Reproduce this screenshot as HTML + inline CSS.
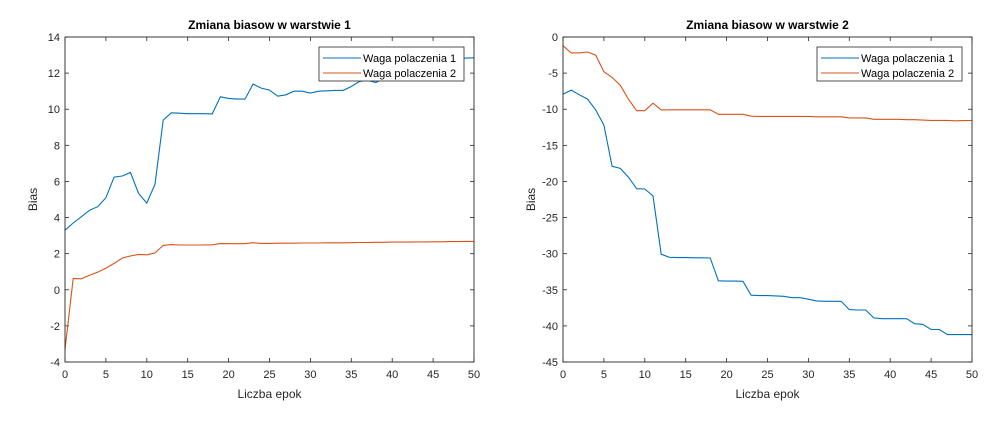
<!DOCTYPE html>
<html><head><meta charset="utf-8"><style>
html,body{margin:0;padding:0;background:#fff;}
svg{display:block;font-family:"Liberation Sans",Arial,sans-serif;}
</style></head><body>
<svg id="fig" width="990" height="423" viewBox="0 0 990 423"></svg>
<script>
const epochs = Array.from({length:51},(_,i)=>i);
const l1Series1 = [3.3,3.7,4.05,4.4,4.6,5.1,6.24,6.3,6.5,5.33,4.8,5.85,9.4,9.8,9.78,9.75,9.75,9.75,9.74,10.69,10.6,10.56,10.56,11.39,11.17,11.06,10.72,10.8,11.0,11.0,10.9,11.0,11.02,11.04,11.04,11.26,11.54,11.6,11.48,11.7,12.0,12.2,12.4,12.5,12.6,12.7,12.75,12.8,12.8,12.83,12.85];
const l1Series2 = [-3.3,0.63,0.61,0.8,0.98,1.2,1.46,1.76,1.87,1.96,1.94,2.04,2.46,2.5,2.48,2.48,2.48,2.48,2.49,2.56,2.55,2.55,2.55,2.61,2.57,2.57,2.58,2.58,2.58,2.59,2.59,2.59,2.6,2.6,2.6,2.61,2.62,2.62,2.63,2.63,2.64,2.64,2.64,2.65,2.65,2.66,2.66,2.67,2.67,2.68,2.68];
const l2Series1 = [-7.9,-7.35,-8.0,-8.6,-10.1,-12.2,-17.9,-18.2,-19.4,-21.0,-21.05,-22.0,-30.07,-30.5,-30.55,-30.55,-30.57,-30.57,-30.6,-33.76,-33.8,-33.8,-33.82,-35.75,-35.8,-35.8,-35.85,-35.9,-36.1,-36.1,-36.3,-36.54,-36.6,-36.6,-36.6,-37.74,-37.8,-37.8,-38.9,-39.0,-39.0,-39.0,-39.0,-39.7,-39.8,-40.5,-40.5,-41.2,-41.2,-41.2,-41.2];
const l2Series2 = [-1.2,-2.2,-2.2,-2.08,-2.5,-4.8,-5.6,-6.7,-8.6,-10.2,-10.2,-9.16,-10.1,-10.08,-10.08,-10.08,-10.08,-10.08,-10.08,-10.7,-10.7,-10.7,-10.7,-10.96,-11.0,-11.0,-11.0,-11.0,-11.0,-11.0,-11.0,-11.05,-11.05,-11.05,-11.05,-11.2,-11.2,-11.2,-11.4,-11.4,-11.4,-11.4,-11.45,-11.45,-11.5,-11.55,-11.55,-11.55,-11.6,-11.58,-11.56];
const xTicks = [0,5,10,15,20,25,30,35,40,45,50];
const yTicks1 = [-4,-2,0,2,4,6,8,10,12,14];
const yTicks2 = [-45,-40,-35,-30,-25,-20,-15,-10,-5,0];
const titles = ["Zmiana biasow w warstwie 1","Zmiana biasow w warstwie 2"];
const legendLabels = ["Waga polaczenia 1","Waga polaczenia 2"];
const colors = ["#0072BD","#D95319"];
const NS="http://www.w3.org/2000/svg";
const svg=document.getElementById('fig');
function mk(tag,attrs,parent){const e=document.createElementNS(NS,tag);for(const k in attrs)e.setAttribute(k,attrs[k]);(parent||svg).appendChild(e);return e;}
function panel(idx,L,R,T,B,ymin,ymax,yTicks,s1,s2,legX){
  const g=mk('g',{});
  
  
  const xs=v=>L+(v-0)/(50-0)*(R-L);
  const ys=v=>B-(v-ymin)/(ymax-ymin)*(B-T);
  mk('rect',{x:L,y:T,width:R-L,height:B-T,fill:'#fff'},g);
  const ax='#262626';
  xTicks.forEach(t=>{
    const x=xs(t);
    mk('line',{x1:x,y1:B,x2:x,y2:B-4,stroke:ax,'stroke-width':0.8},g);
    mk('line',{x1:x,y1:T,x2:x,y2:T+4,stroke:ax,'stroke-width':0.8},g);
    const tx=mk('text',{x:x,y:B+16,'text-anchor':'middle','font-size':11,fill:ax},g);
    tx.textContent=t;
    
    
  });
  yTicks.forEach(t=>{
    const y=ys(t);
    mk('line',{x1:L,y1:y,x2:L+4,y2:y,stroke:ax,'stroke-width':0.8},g);
    mk('line',{x1:R,y1:y,x2:R-4,y2:y,stroke:ax,'stroke-width':0.8},g);
    const tx=mk('text',{x:L-5,y:y+4,'text-anchor':'end','font-size':11,fill:ax},g);
    tx.textContent=t;
    
    
  });
  [s1,s2].forEach((s,k)=>{
    const p=mk('polyline',{points:s.map((v,i)=>xs(epochs[i]).toFixed(1)+','+ys(v).toFixed(1)).join(' '),fill:'none',stroke:colors[k],'stroke-width':1.1},g);
    
    
  });
  mk('rect',{x:L,y:T,width:R-L,height:B-T,fill:'none',stroke:ax,'stroke-width':0.9},g);
  const tt=mk('text',{x:(L+R)/2,y:T-8,'text-anchor':'middle','font-size':12,'font-weight':'bold',fill:'#000'},g);
  tt.textContent=titles[idx];
  
  
  const xl=mk('text',{x:(L+R)/2,y:B+36,'text-anchor':'middle','font-size':12,fill:ax},g);
  xl.textContent='Liczba epok';
  
  
  const yl=mk('text',{x:0,y:0,'text-anchor':'middle','font-size':12,fill:ax,transform:`translate(${L-28},${(T+B)/2}) rotate(-90)`},g);
  yl.textContent='Bias';
  
  
  const lg=mk('g',{},g);
  
  
  mk('rect',{x:legX,y:47,width:145,height:34,fill:'#fff',stroke:'#262626','stroke-width':0.8},lg);
  legendLabels.forEach((lab,k)=>{
    const y=58+k*15;
    mk('line',{x1:legX+4,y1:y,x2:legX+42,y2:y,stroke:colors[k],'stroke-width':1.1},lg);
    const t=mk('text',{x:legX+44,y:y+4,'font-size':11,fill:'#000'},lg);
    t.textContent=lab;
    
    
  });
}
panel(0,65,474,37,362,-4,14,yTicks1,l1Series1,l1Series2,319);
panel(1,563,972,37,362,-45,0,yTicks2,l2Series1,l2Series2,817);
</script>
</body></html>
